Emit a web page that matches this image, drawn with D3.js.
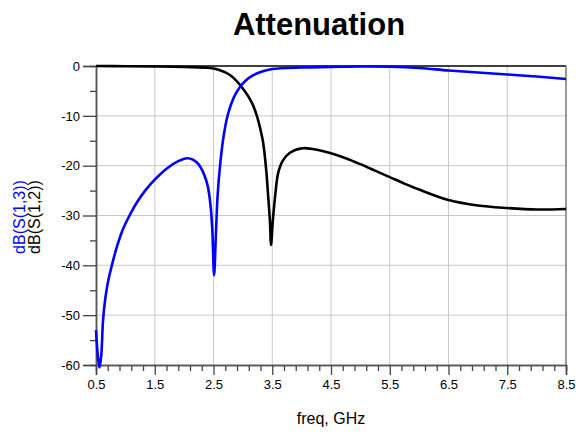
<!DOCTYPE html>
<html><head><meta charset="utf-8">
<script src="https://cdn.jsdelivr.net/npm/d3@7"></script>
<style>body{margin:0;background:#fff;}svg{display:block;font-family:"Liberation Sans",Arial,sans-serif;}</style>
</head><body><svg id="c" width="576" height="432"></svg>
<script>
const title = "Attenuation";
const xLabel = "freq, GHz";
const seriesNames = ["dB(S(1,3))", "dB(S(1,2))"];
const seriesColors = ["#0000ff", "#000000"];
const xTicks = [0.5, 1.5, 2.5, 3.5, 4.5, 5.5, 6.5, 7.5, 8.5];
const yTicks = [0, -10, -20, -30, -40, -50, -60];

const freqS13 = [0.5,0.53,0.56,0.59,0.62,0.66,0.71,0.77,0.85,0.95,1.08,1.2,1.35,1.5,1.7,1.9,2.05,2.15,2.25,2.33,2.4,2.45,2.48,2.51,2.54,2.57,2.62,2.68,2.75,2.85,2.95,3.05,3.17,3.3,3.5,4.0,4.5,5.0,5.5,6.0,6.5,7.0,7.5,8.0,8.5];
const dbS13 = [-53,-58,-60.5,-58,-51,-46.5,-43,-40,-36.5,-33,-29.8,-27.3,-24.8,-22.8,-20.6,-19.1,-18.5,-18.8,-19.8,-21.5,-24,-28,-33,-42,-34,-26,-19,-13.5,-9.5,-6.2,-4.2,-2.9,-1.9,-1.2,-0.6,-0.3,-0.2,-0.1,-0.15,-0.4,-0.9,-1.3,-1.7,-2.1,-2.6];

const freqS12 = [0.5,1.0,1.5,2.0,2.44,2.6,2.78,2.98,3.17,3.33,3.39,3.43,3.46,3.48,3.51,3.55,3.6,3.68,3.8,4.02,4.3,4.5,4.75,5.0,5.25,5.5,5.75,6.0,6.5,7.0,7.5,8.0,8.5];
const dbS12 = [0,-0.05,-0.1,-0.2,-0.4,-0.8,-1.8,-4.2,-7.8,-14.4,-20,-26,-31,-35.9,-31,-26,-21.5,-19,-17.4,-16.5,-16.9,-17.5,-18.5,-19.7,-21.0,-22.3,-23.6,-24.8,-26.9,-28,-28.5,-28.8,-28.7];

const svg = d3.select("#c");
const L = 96, R = 566, T = 66, B = 365;
const x = d3.scaleLinear().domain([0.5, 8.5]).range([L, R]);
const y = d3.scaleLinear().domain([-60, 0]).range([B, T]);

// grid
const g = svg.append("g");
g.selectAll(".gx").data(xTicks.slice(1, -1)).enter().append("line")
  .attr("x1", d => x(d)).attr("x2", d => x(d)).attr("y1", T).attr("y2", B)
  .attr("stroke", "#c8c8c8").attr("stroke-width", 1);
g.selectAll(".gy").data(yTicks.slice(1, -1)).enter().append("line")
  .attr("x1", L).attr("x2", R).attr("y1", d => y(d)).attr("y2", d => y(d))
  .attr("stroke", "#c8c8c8").attr("stroke-width", 1);

// axes
const fmtX = d => d.toFixed(1);
const fmtY = d => String(d);
const minorX = d3.range(0, 40).map(i => 0.5 + i * 0.2).filter((v, i) => i % 5 !== 0);
const xAxis = d3.axisBottom(x).tickValues(xTicks).tickSize(10).tickPadding(5).tickFormat(fmtX);
const xMinor = d3.axisBottom(x).tickValues(minorX).tickSize(6).tickFormat("");
const yAxis = d3.axisLeft(y).tickValues(yTicks).tickSize(13).tickPadding(3).tickFormat(fmtY);
const yMinor = d3.axisLeft(y).tickValues(d3.range(-55, 0, 10)).tickSize(6).tickFormat("");

function style(sel) {
  sel.select(".domain").attr("stroke", "#555").attr("stroke-width", 1.5);
  sel.selectAll(".tick line").attr("stroke", "#444").attr("stroke-width", 1.3);
  sel.selectAll("text").attr("font-size", 13).attr("fill", "#000").attr("font-family", "Liberation Sans, Arial, sans-serif");
}
svg.append("g").attr("transform", `translate(0,${B})`).call(xMinor).call(style);
svg.append("g").attr("transform", `translate(0,${B})`).call(xAxis).call(style);
svg.append("g").attr("transform", `translate(${L},0)`).call(yMinor).call(style);
svg.append("g").attr("transform", `translate(${L},0)`).call(yAxis).call(style);

// top and right border
svg.append("line").attr("x1", L).attr("x2", R).attr("y1", T).attr("y2", T).attr("stroke", "#000").attr("stroke-width", 1.5);
svg.append("line").attr("x1", R).attr("x2", R).attr("y1", T).attr("y2", B).attr("stroke", "#777").attr("stroke-width", 1.5);

// lines
const line = d3.line().x(d => x(d[0])).y(d => y(d[1])).curve(d3.curveCatmullRom.alpha(0.5));
const s12 = freqS12.map((f, i) => [f, dbS12[i]]);
const s13 = freqS13.map((f, i) => [f, dbS13[i]]);
svg.append("path").attr("d", line(s12)).attr("fill", "none").attr("stroke", seriesColors[1]).attr("stroke-width", 2.6);
svg.append("path").attr("d", line(s13)).attr("fill", "none").attr("stroke", seriesColors[0]).attr("stroke-width", 2.6);

// texts
svg.append("text").attr("x", 319).attr("y", 35).attr("text-anchor", "middle")
  .attr("font-size", 31).attr("font-weight", "bold").text(title);
svg.append("text").attr("x", 331).attr("y", 424).attr("text-anchor", "middle")
  .attr("font-size", 16).text(xLabel);
svg.append("text").attr("transform", "translate(25,217) rotate(-90)").attr("text-anchor", "middle")
  .attr("font-size", 16).attr("fill", seriesColors[0]).text(seriesNames[0]);
svg.append("text").attr("transform", "translate(40,217) rotate(-90)").attr("text-anchor", "middle")
  .attr("font-size", 16).attr("fill", seriesColors[1]).text(seriesNames[1]);
</script></body></html>
